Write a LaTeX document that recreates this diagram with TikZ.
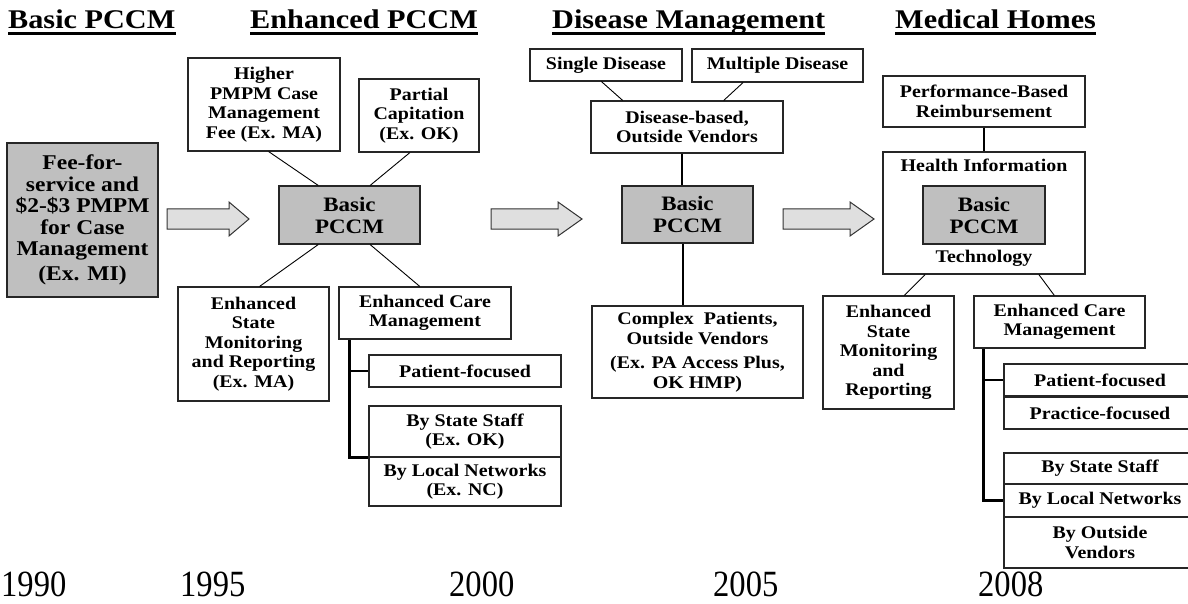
\documentclass[tikz,border=0pt]{standalone}
\usepackage{fontspec}
\setmainfont{Liberation Serif}[FakeStretch=1.12]
\newfontfamily\yearfont{Liberation Serif}[FakeStretch=0.88]
\usetikzlibrary{calc}
\newcommand\bxfont{\bfseries\fontsize{17.8}{19.5}\selectfont}
\newcommand\bigbxfont{\bfseries\fontsize{21}{21.5}\selectfont}
\newcommand\pccmfont{\bfseries\fontsize{20.5}{22}\selectfont}
\begin{document}
\begin{tikzpicture}[x=1pt,y=-1pt,
 bx/.style={draw=black!85, line width=1.1pt, fill=white, inner sep=0pt, align=center, font=\bxfont},
 gbx/.style={bx, fill=gray!50, font=\pccmfont},
 ttl/.style={inner sep=0pt, anchor=base west, font=\bfseries\fontsize{27}{29}\selectfont},
 yr/.style={inner sep=0pt, anchor=base west, font=\yearfont\fontsize{37}{37}\selectfont},
 thinln/.style={line width=0.9pt, black},
 thkln/.style={line width=2pt, black},
 brk/.style={line width=2.4pt, black},
 barr/.style={fill=gray!25, draw=black!80, line width=1pt, line join=miter},
 uline/.style={line width=2.6pt, black}
]
\useasboundingbox (0,0) rectangle (1188,604);
\begin{scope}
\clip (0,0) rectangle (1188,604);
% titles
\node[ttl] (t1) at (8,29) {Basic PCCM};
\node[ttl] (t2) at (250,29) {Enhanced PCCM};
\node[ttl] (t3) at (552,29) {Disease Management};
\node[ttl] (t4) at (895,29) {Medical Homes};
\foreach \t in {t1,t2,t3,t4}{
  \draw[uline] ([yshift=-4.5pt]\t.base west) -- ([yshift=-4.5pt]\t.base east);
}
% years
\node[yr] (y1) at (1,596) {1990};
\node[yr] (y2) at (180,596) {1995};
\node[yr] (y3) at (449,596) {2000};
\node[yr] (y4) at (713,596) {2005};
\node[yr] (y5) at (978,596) {2008};
% basic column
\node[bx, fill=gray!50, font=\bigbxfont, minimum width=151, minimum height=154] (fee) at (82.5,220)
 {Fee-for-\\service and\\\$2-\$3 PMPM\\for Case\\Management\\[3pt](Ex. MI)};
% block arrows
\draw[barr] (167,209) -- (229,209) -- (229,202) -- (249,219) -- (229,236) -- (229,229) -- (167,229) -- cycle;
\draw[barr] (491,209) -- (558,209) -- (558,202) -- (582,219) -- (558,236) -- (558,229) -- (491,229) -- cycle;
\draw[barr] (783,209) -- (850,209) -- (850,202) -- (874,219) -- (850,236) -- (850,229) -- (783,229) -- cycle;
% enhanced column
\node[bx, minimum width=152, minimum height=93] (higher) at (264,104.5)
 {Higher\\PMPM Case\\Management\\Fee (Ex. MA)};
\node[bx, minimum width=120, minimum height=73] (partial) at (419,115.5)
 {Partial\\Capitation\\(Ex. OK)};
\node[gbx, minimum width=141, minimum height=58] (basic1) at (349.5,215) {Basic\\PCCM};
\node[bx, minimum width=151, minimum height=114] (estate1) at (253.5,344)
 {Enhanced\\State\\Monitoring\\and Reporting\\(Ex. MA)};
\node[bx, minimum width=172, minimum height=52] (ecare1) at (425,313)
 {Enhanced Care\\Management};
\node[bx, minimum width=192, minimum height=32] (pf1) at (465,371) {Patient-focused};
\node[bx, minimum width=192, minimum height=51] (bss1) at (465,431.5) {By State Staff\\(Ex. OK)};
\node[bx, minimum width=192, minimum height=49] (bln1) at (465,481.5) {By Local Networks\\(Ex. NC)};
\draw[thinln] ($(higher.south west)!0.53!(higher.south east)$) -- ($(basic1.north west)!0.28!(basic1.north east)$);
\draw[thinln] ($(partial.south west)!0.425!(partial.south east)$) -- ($(basic1.north west)!0.645!(basic1.north east)$);
\draw[thinln] ($(basic1.south west)!0.28!(basic1.south east)$) -- ($(estate1.north west)!0.54!(estate1.north east)$);
\draw[thinln] ($(basic1.south west)!0.645!(basic1.south east)$) -- ($(ecare1.north west)!0.47!(ecare1.north east)$);
\coordinate (bk1) at ([xshift=11pt]ecare1.south west);
\draw[brk] (bk1) |- (bss1.south west);
\draw[brk] (bk1 |- pf1.west) -- (pf1.west);
% disease management column
\node[bx, minimum width=152, minimum height=32] (sd) at (606,65) {Single Disease};
\node[bx, minimum width=171, minimum height=33] (md) at (777.5,65.5) {Multiple Disease};
\node[bx, minimum width=192, minimum height=52] (db) at (687,127) {Disease-based,\\Outside Vendors};
\node[gbx, minimum width=131, minimum height=57] (basic2) at (687.5,214.5) {Basic\\PCCM};
\node[bx, minimum width=211, minimum height=92] (cplx) at (697.5,352)
 {Complex\ \ Patients,\\Outside Vendors\\[5pt](Ex. PA Access Plus,\\OK HMP)};
\draw[thinln] ($(sd.south west)!0.47!(sd.south east)$) -- ($(db.north west)!0.167!(db.north east)$);
\draw[thinln] ($(md.south west)!0.30!(md.south east)$) -- ($(db.north west)!0.69!(db.north east)$);
\draw[thkln] ([xshift=-5pt]db.south) -- ([xshift=-5pt]db.south |- basic2.north);
\draw[thkln] ([xshift=-5pt]basic2.south) -- ([xshift=-5pt]basic2.south |- cplx.north);
% medical homes column
\node[bx, minimum width=202, minimum height=51] (perf) at (984,101.5) {Performance-Based\\Reimbursement};
\node[bx, minimum width=202, minimum height=122] (hit) at (984,213) {};
\node[inner sep=0pt, anchor=base, font=\bxfont] (hitl1) at (984,172) {Health Information};
\node[inner sep=0pt, anchor=base, font=\bxfont] (hitl2) at (984,262) {Technology};
\node[gbx, minimum width=122, minimum height=58] (basic3) at (984,215) {Basic\\PCCM};
\node[bx, minimum width=131, minimum height=113] (estate3) at (888.5,352.5)
 {Enhanced\\State\\Monitoring\\and\\Reporting};
\node[bx, minimum width=171, minimum height=52] (ecare3) at (1059.5,322) {Enhanced Care\\Management};
\node[bx, minimum width=192, minimum height=32] (pf3) at (1100,380) {Patient-focused};
\node[bx, minimum width=192, minimum height=32] (prf3) at (1100,413) {Practice-focused};
\node[bx, minimum width=192, minimum height=31] (bss3) at (1100,468.5) {By State Staff};
\node[bx, minimum width=192, minimum height=33] (bln3) at (1100,500.5) {By Local Networks};
\node[bx, minimum width=192, minimum height=51] (bov3) at (1100,542.5) {By Outside\\Vendors};
\draw[thkln] (perf.south) -- (hit.north);
\draw[thinln] ($(hit.south west)!0.21!(hit.south east)$) -- ($(estate3.north west)!0.62!(estate3.north east)$);
\draw[thinln] ($(hit.south west)!0.77!(hit.south east)$) -- ($(ecare3.north west)!0.47!(ecare3.north east)$);
\coordinate (bk3) at ([xshift=10pt]ecare3.south west);
\draw[brk] (bk3) |- (bln3.west);
\draw[brk] (bk3 |- pf3.west) -- (pf3.west);
\end{scope}
\end{tikzpicture}
\end{document}
